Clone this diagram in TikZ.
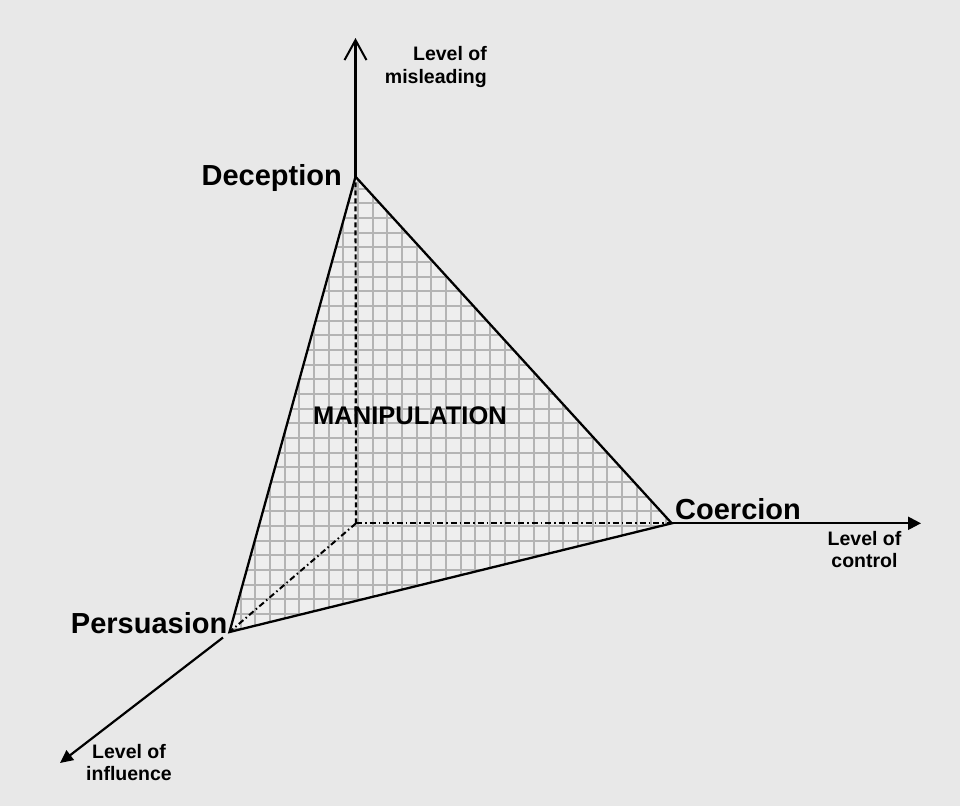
\documentclass[tikz,border=0pt]{standalone}
\usepackage{fontspec}
\setmainfont{Liberation Sans}
\usetikzlibrary{arrows.meta,calc}
\definecolor{bg}{HTML}{E8E8E8}
\definecolor{gridc}{HTML}{B4B4B4}
\begin{document}
\begin{tikzpicture}[x=1pt,y=-1pt,
  axis/.style={line width=2.2pt,black},
  edge/.style={line width=2.3pt,black,line join=miter},
  hidden/.style={line width=2.2pt,dash pattern=on 5pt off 3pt},
  hiddendot/.style={line width=2pt,dash pattern=on 6pt off 3pt on 1.5pt off 3pt},
  gridline/.style={gridc,line width=1.8pt},
  vlabel/.style={font=\fontsize{29}{32}\selectfont\bfseries,inner sep=0pt},
  alabel/.style={font=\fontsize{19.5}{22.5}\selectfont\bfseries,inner sep=0pt},
  mlabel/.style={font=\fontsize{25.5}{28}\selectfont\bfseries,inner sep=0pt}]
\useasboundingbox (0,0) rectangle (960,806);
\fill[bg] (0,0) rectangle (960,806);
% key points
\coordinate (O) at (356,523.3);
\coordinate (D) at (355.5,176.7);
\coordinate (C) at (671.7,523.3);
\coordinate (P) at (229.5,632);
\coordinate (Ytop) at (355.5,38);
\coordinate (Xend) at (921,523.3);
\coordinate (Zs) at (223,637.5);
\coordinate (Zend) at (60,763);
% grid-filled face
\begin{scope}
  \clip (D) -- (C) -- (P) -- cycle;
  \fill[bg!75!white] (D) -- (C) -- (P) -- cycle;
  \foreach \i in {14,...,46} {
    \draw[gridline] ({6+14.667*\i},160) -- ({6+14.667*\i},650);
  }
  \foreach \j in {10,...,44} {
    \draw[gridline] (215,{12.6+14.667*\j}) -- (685,{12.6+14.667*\j});
  }
\end{scope}
% hidden edges
\draw[hidden] (O) -- (D);
\draw[hiddendot] (O) -- (C);
\draw[hiddendot] (O) -- (P);
% visible face edges
\draw[edge] (D) -- (C) -- (P) -- cycle;
% axes
\draw[axis,-{Straight Barb[length=20pt,width=22pt,line width=2pt]}] (D) -- (Ytop);
\draw[axis,-{Triangle[length=13pt,width=13pt]}] (C) -- (Xend);
\draw[axis,-{Triangle[length=13pt,width=12pt]}] (Zs) -- (Zend);
% labels
\node[vlabel,anchor=base east] (ldec) at (342,185) {Deception};
\node[vlabel,anchor=base west] (lcoe) at (675,519.5) {Coercion};
\node[vlabel,anchor=base east] (lper) at (227.5,633.5) {Persuasion};
\node[mlabel,anchor=base west] (lman) at (313,424) {MANIPULATION};
\node[alabel,anchor=north east,align=right] (lmis) at (487,46.5) {Level of\\misleading};
\node[alabel,anchor=north,align=center] (lcon) at (864.5,530.8) {Level of\\control};
\node[alabel,anchor=north,align=center] (linf) at (129,744) {Level of\\influence};
\end{tikzpicture}
\end{document}
